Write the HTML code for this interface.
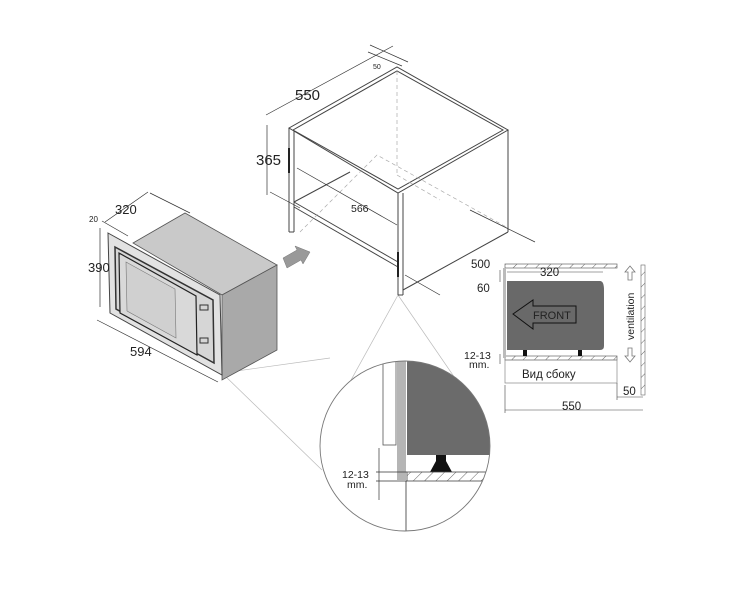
<!DOCTYPE html>
<html><head><meta charset="utf-8"><style>
body{margin:0;background:#fff}
svg{display:block}
text{font-family:"Liberation Sans",Arial,sans-serif;fill:#222}
</style></head><body>
<svg width="750" height="593" viewBox="0 0 750 593" xmlns="http://www.w3.org/2000/svg">
<defs>
<pattern id="h" width="8" height="8" patternUnits="userSpaceOnUse" patternTransform="rotate(45)"><line x1="0" y1="0" x2="0" y2="8" stroke="#666" stroke-width="1"/></pattern>
<clipPath id="c"><circle cx="405" cy="446" r="85"/></clipPath>
</defs>
<g stroke="#bbb" stroke-width="0.7" fill="none">
<line x1="222" y1="373" x2="330" y2="358"/><line x1="222" y1="373" x2="322" y2="470"/>
<line x1="398" y1="295" x2="340" y2="400"/><line x1="398" y1="295" x2="470" y2="400"/>
</g>
<polygon points="133,243 185,213 277,265 222,295" fill="#c9c9c9" stroke="#555" stroke-width="0.8"/>
<polygon points="222,295 277,265 277,350 222,380" fill="#a9a9a9" stroke="#555" stroke-width="0.8"/>
<polygon points="108,233 220,295 222,375 110,313" fill="#e2e2e2" stroke="#444" stroke-width="1"/>
<polygon points="115,247 213,300 214,363 116,309" fill="#d6d6d6" stroke="#333" stroke-width="1.5"/>
<polygon points="119,253 196,296 197,355 120,313" fill="#d9d9d9" stroke="#222" stroke-width="1.2"/>
<polygon points="126,262 175,289 176,338 127,311" fill="#d0d0d0" stroke="#777" stroke-width="0.6"/>
<rect x="200" y="305" width="8" height="5" fill="none" stroke="#333"/>
<rect x="200" y="338" width="8" height="5" fill="none" stroke="#333"/>
<g stroke="#333" stroke-width="0.7" fill="none">
<line x1="100" y1="228" x2="100" y2="307"/>
<line x1="97" y1="320" x2="218" y2="382"/>
<line x1="105" y1="222" x2="148" y2="192"/><line x1="150" y1="193" x2="190" y2="213"/>
<line x1="102" y1="221" x2="128" y2="236"/>
</g>
<text x="89" y="222" font-size="8">20</text>
<text x="115" y="214" font-size="13">320</text>
<text x="88" y="272" font-size="13">390</text>
<text x="130" y="356" font-size="13">594</text>
<polygon points="283,258 297,250 295,246 310,252 303,264 301,260 287,268" fill="#999" stroke="#777" stroke-width="0.5"/>
<g stroke="#444" stroke-width="1" fill="none">
<polygon points="289,128 397,67 508,130 398,193"/>
<polyline points="293,130 397,71 503,130 398,189 293,130"/>
<line x1="289" y1="128" x2="289" y2="232"/><line x1="294" y1="131" x2="294" y2="232"/><line x1="289" y1="232" x2="294" y2="232"/>
<line x1="398" y1="193" x2="398" y2="295"/><line x1="403" y1="193" x2="403" y2="295"/><line x1="398" y1="295" x2="403" y2="295"/>
<line x1="508" y1="130" x2="508" y2="232"/>
<line x1="403" y1="290" x2="508" y2="232"/>
<line x1="294" y1="202" x2="398" y2="262"/><line x1="294" y1="207" x2="398" y2="267"/>
<line x1="294" y1="202" x2="350" y2="172"/>
</g>
<g stroke="#aaa" stroke-width="0.7" fill="none" stroke-dasharray="4,3">
<line x1="397" y1="71" x2="397" y2="175"/><polyline points="300,232 377,155 508,228"/><line x1="397" y1="175" x2="440" y2="200"/>
</g>
<rect x="288" y="148" width="2" height="25" fill="#222"/>
<rect x="397" y="252" width="2" height="25" fill="#222"/>
<g stroke="#333" stroke-width="0.7">
<line x1="266" y1="115" x2="393" y2="46"/><line x1="267" y1="125" x2="267" y2="195"/>
<line x1="270" y1="192" x2="300" y2="208"/><line x1="297" y1="168" x2="397" y2="225"/>
<line x1="405" y1="275" x2="440" y2="295"/><line x1="470" y1="210" x2="535" y2="242"/>
<line x1="368" y1="52" x2="402" y2="66"/><line x1="370" y1="45" x2="408" y2="62"/>
</g>
<text x="373" y="69" font-size="7">50</text>
<text x="295" y="100" font-size="15">550</text>
<text x="256" y="165" font-size="15">365</text>
<text x="351" y="212" font-size="10.5">566</text>
<rect x="505" y="264" width="112" height="4" fill="url(#h)" stroke="#666" stroke-width="0.7"/>
<rect x="505" y="356" width="112" height="4" fill="url(#h)" stroke="#666" stroke-width="0.7"/>
<rect x="505" y="360" width="112" height="23" fill="none" stroke="#888" stroke-width="0.7"/>
<rect x="503" y="268" width="3" height="90" fill="#bbb"/>
<path d="M507,281 H600 Q604,281 604,290 V346 Q604,350 600,350 H507 Z" fill="#696969"/>
<rect x="523" y="350" width="4" height="6" fill="#111"/><rect x="578" y="350" width="4" height="6" fill="#111"/>
<polygon points="513,314 533,300 533,306 576,306 576,323 533,323 533,329" fill="none" stroke="#111" stroke-width="1"/>
<text x="533" y="319" font-size="11" fill="#111">FRONT</text>
<rect x="641" y="265" width="4" height="130" fill="url(#h)" stroke="#666" stroke-width="0.6"/>
<g stroke="#777" fill="none" stroke-width="0.8">
<polygon points="630,266 625,272 628,272 628,280 632,280 632,272 635,272"/>
<polygon points="630,362 625,356 628,356 628,348 632,348 632,356 635,356"/>
</g>
<text transform="translate(634,340) rotate(-90)" font-size="10.5">ventilation</text>
<g stroke="#444" stroke-width="0.6">
<line x1="507" y1="272" x2="603" y2="272"/><line x1="505" y1="410" x2="643" y2="410"/>
<line x1="617" y1="397" x2="643" y2="397"/><line x1="505" y1="385" x2="505" y2="413"/><line x1="617" y1="383" x2="617" y2="400"/>
<line x1="500" y1="270" x2="500" y2="282"/><line x1="500" y1="354" x2="500" y2="364"/>
</g>
<text x="540" y="276" font-size="11.5">320</text>
<text x="471" y="268" font-size="11.5">500</text>
<text x="477" y="292" font-size="11.5">60</text>
<text x="464" y="359" font-size="10.5">12-13</text>
<text x="469" y="368" font-size="10.5">mm.</text>
<text x="522" y="378" font-size="11.5">Вид сбоку</text>
<text x="623" y="395" font-size="11.5">50</text>
<text x="562" y="410" font-size="11.5">550</text>
<g clip-path="url(#c)">
<rect x="300" y="350" width="200" height="200" fill="#fff"/>
<rect x="407" y="355" width="100" height="100" fill="#6b6b6b"/>
<rect x="397" y="355" width="9" height="125" fill="#b5b5b5"/>
<rect x="383" y="355" width="13" height="90" fill="none" stroke="#555" stroke-width="0.8"/>
<polygon points="436,455 446,455 446,461 452,472 430,472 436,461" fill="#111"/>
<rect x="407" y="472" width="100" height="9" fill="url(#h)" stroke="#444" stroke-width="0.8"/>
<line x1="376" y1="472" x2="407" y2="472" stroke="#333" stroke-width="0.8"/>
<line x1="376" y1="481" x2="407" y2="481" stroke="#333" stroke-width="0.8"/>
<line x1="406" y1="481" x2="406" y2="540" stroke="#333" stroke-width="0.8"/>
<line x1="379" y1="448" x2="379" y2="500" stroke="#333" stroke-width="0.7"/>
</g>
<circle cx="405" cy="446" r="85" fill="none" stroke="#777" stroke-width="0.9"/>
<text x="342" y="478" font-size="10.5">12-13</text>
<text x="347" y="488" font-size="10.5">mm.</text>
</svg>
</body></html>
